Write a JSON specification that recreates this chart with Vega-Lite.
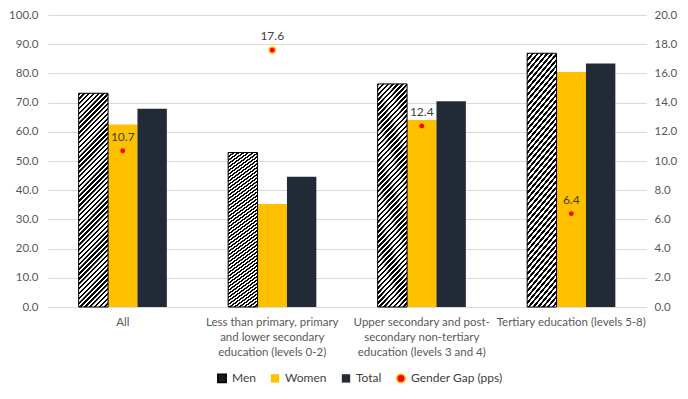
{
  "$schema": "https://vega.github.io/schema/vega-lite/v6.json",
  "width": 598,
  "height": 292,
  "autosize": {"type": "none"},
  "padding": {"left": 48, "top": 15, "right": 42, "bottom": 92},
  "background": "white",
  "config": {
    "view": {"stroke": null},
    "font": "Lato",
    "axis": {"labelFont": "Lato", "labelColor": "#595959", "labelFontSize": 11.5, "ticks": false, "title": null}
  },
  "datasets": {
    "bars": [
      {"cat": "All", "series": "Men", "value": 73.2},
      {"cat": "All", "series": "Women", "value": 62.5},
      {"cat": "All", "series": "Total", "value": 67.9},
      {"cat": "Less than primary, primary|and lower secondary|education (levels 0-2)", "series": "Men", "value": 52.9},
      {"cat": "Less than primary, primary|and lower secondary|education (levels 0-2)", "series": "Women", "value": 35.3},
      {"cat": "Less than primary, primary|and lower secondary|education (levels 0-2)", "series": "Total", "value": 44.6},
      {"cat": "Upper secondary and post-|secondary non-tertiary|education (levels 3 and 4)", "series": "Men", "value": 76.4},
      {"cat": "Upper secondary and post-|secondary non-tertiary|education (levels 3 and 4)", "series": "Women", "value": 64.0},
      {"cat": "Upper secondary and post-|secondary non-tertiary|education (levels 3 and 4)", "series": "Total", "value": 70.5},
      {"cat": "Tertiary education (levels 5-8)", "series": "Men", "value": 86.9},
      {"cat": "Tertiary education (levels 5-8)", "series": "Women", "value": 80.5},
      {"cat": "Tertiary education (levels 5-8)", "series": "Total", "value": 83.4}
    ],
    "gap": [
      {"cat": "All", "series": "Gender Gap (pps)", "gap": 10.7},
      {"cat": "Less than primary, primary|and lower secondary|education (levels 0-2)", "series": "Gender Gap (pps)", "gap": 17.6},
      {"cat": "Upper secondary and post-|secondary non-tertiary|education (levels 3 and 4)", "series": "Gender Gap (pps)", "gap": 12.4},
      {"cat": "Tertiary education (levels 5-8)", "series": "Gender Gap (pps)", "gap": 6.4}
    ]
  },
  "layer": [
    {
      "data": {"name": "bars"},
      "transform": [{"filter": "datum.series !== 'Men'"}],
      "mark": {"type": "bar"},
      "encoding": {
        "x": {
          "field": "cat", "type": "nominal", "sort": null,
          "scale": {"domain": ["All", "Less than primary, primary|and lower secondary|education (levels 0-2)", "Upper secondary and post-|secondary non-tertiary|education (levels 3 and 4)", "Tertiary education (levels 5-8)"], "paddingInner": 0.41, "paddingOuter": 0.205},
          "axis": {"labelAngle": 0, "labelExpr": "split(datum.label, '|')", "labelLineHeight": 15, "labelPadding": 9, "labelBaseline": "top", "domain": true, "domainColor": "#D9D9D9", "grid": false, "labelLimit": 200}
        },
        "xOffset": {"field": "series", "type": "nominal", "sort": ["Men", "Women", "Total"], "scale": {"domain": ["Men", "Women", "Total"], "paddingInner": 0, "paddingOuter": 0}},
        "y": {
          "field": "value", "type": "quantitative",
          "scale": {"domain": [0, 100], "nice": false},
          "axis": {"values": [0, 10, 20, 30, 40, 50, 60, 70, 80, 90, 100], "format": ".1f", "grid": true, "gridColor": "#D9D9D9", "domain": false, "labelPadding": 10}
        },
        "color": {
          "field": "series", "type": "nominal",
          "scale": {
            "domain": ["Men", "Women", "Total", "Gender Gap (pps)"],
            "range": ["#1a1a1a", "#FFC000", "#222A35", "#FF0000"]
          },
          "legend": {
            "orient": "none", "legendX": 168, "legendY": 357, "direction": "horizontal", "title": null,
            "symbolSize": 70, "symbolType": "square", "labelFont": "Lato", "labelFontSize": 12, "labelColor": "#404040",
            "columnPadding": 11, "labelOffset": 4,
            "encode": {"symbols": {"update": {
              "shape": {"signal": "datum.value === 'Gender Gap (pps)' ? 'circle' : 'square'"},
              "fill": [
                {"test": "datum.value === 'Men'", "value": {"gradient": "linear", "x1": 0, "y1": 0, "x2": 1, "y2": 1, "stops": [
                  {"offset": 0, "color": "#000"}, {"offset": 0.4, "color": "#000"}, {"offset": 0.45, "color": "#fff"},
                  {"offset": 0.6, "color": "#fff"}, {"offset": 0.65, "color": "#000"}, {"offset": 1, "color": "#000"}]}},
                {"scale": "color", "field": "value"}
              ],
              "stroke": {"signal": "datum.value === 'Gender Gap (pps)' ? '#FFC000' : (datum.value === 'Men' ? '#000000' : 'transparent')"},
              "strokeWidth": {"value": 1.5}
            }}}
          }
        }
      }
    },
    {
      "data": {"name": "bars"},
      "transform": [{"filter": "datum.series === 'Men'"}],
      "mark": {
        "type": "bar", "stroke": "#000000", "strokeWidth": 1,
        "color": {"gradient": "linear", "x1": 0, "y1": 0, "x2": 0.155, "y2": 1.117, "stops": [
          {"offset":0,"color":"#000"},{"offset":0.009,"color":"#000"},{"offset":0.01,"color":"#fff"},{"offset":0.019,"color":"#fff"},
          {"offset":0.02,"color":"#000"},{"offset":0.029,"color":"#000"},{"offset":0.03,"color":"#fff"},{"offset":0.039,"color":"#fff"},
          {"offset":0.04,"color":"#000"},{"offset":0.049,"color":"#000"},{"offset":0.05,"color":"#fff"},{"offset":0.059,"color":"#fff"},
          {"offset":0.06,"color":"#000"},{"offset":0.069,"color":"#000"},{"offset":0.07,"color":"#fff"},{"offset":0.079,"color":"#fff"},
          {"offset":0.08,"color":"#000"},{"offset":0.089,"color":"#000"},{"offset":0.09,"color":"#fff"},{"offset":0.099,"color":"#fff"},
          {"offset":0.10,"color":"#000"},{"offset":0.109,"color":"#000"},{"offset":0.11,"color":"#fff"},{"offset":0.119,"color":"#fff"},
          {"offset":0.12,"color":"#000"},{"offset":0.129,"color":"#000"},{"offset":0.13,"color":"#fff"},{"offset":0.139,"color":"#fff"},
          {"offset":0.14,"color":"#000"},{"offset":0.149,"color":"#000"},{"offset":0.15,"color":"#fff"},{"offset":0.159,"color":"#fff"},
          {"offset":0.16,"color":"#000"},{"offset":0.169,"color":"#000"},{"offset":0.17,"color":"#fff"},{"offset":0.179,"color":"#fff"},
          {"offset":0.18,"color":"#000"},{"offset":0.189,"color":"#000"},{"offset":0.19,"color":"#fff"},{"offset":0.199,"color":"#fff"},
          {"offset":0.20,"color":"#000"},{"offset":0.209,"color":"#000"},{"offset":0.21,"color":"#fff"},{"offset":0.219,"color":"#fff"},
          {"offset":0.22,"color":"#000"},{"offset":0.229,"color":"#000"},{"offset":0.23,"color":"#fff"},{"offset":0.239,"color":"#fff"},
          {"offset":0.24,"color":"#000"},{"offset":0.249,"color":"#000"},{"offset":0.25,"color":"#fff"},{"offset":0.259,"color":"#fff"},
          {"offset":0.26,"color":"#000"},{"offset":0.269,"color":"#000"},{"offset":0.27,"color":"#fff"},{"offset":0.279,"color":"#fff"},
          {"offset":0.28,"color":"#000"},{"offset":0.289,"color":"#000"},{"offset":0.29,"color":"#fff"},{"offset":0.299,"color":"#fff"},
          {"offset":0.30,"color":"#000"},{"offset":0.309,"color":"#000"},{"offset":0.31,"color":"#fff"},{"offset":0.319,"color":"#fff"},
          {"offset":0.32,"color":"#000"},{"offset":0.329,"color":"#000"},{"offset":0.33,"color":"#fff"},{"offset":0.339,"color":"#fff"},
          {"offset":0.34,"color":"#000"},{"offset":0.349,"color":"#000"},{"offset":0.35,"color":"#fff"},{"offset":0.359,"color":"#fff"},
          {"offset":0.36,"color":"#000"},{"offset":0.369,"color":"#000"},{"offset":0.37,"color":"#fff"},{"offset":0.379,"color":"#fff"},
          {"offset":0.38,"color":"#000"},{"offset":0.389,"color":"#000"},{"offset":0.39,"color":"#fff"},{"offset":0.399,"color":"#fff"},
          {"offset":0.40,"color":"#000"},{"offset":0.409,"color":"#000"},{"offset":0.41,"color":"#fff"},{"offset":0.419,"color":"#fff"},
          {"offset":0.42,"color":"#000"},{"offset":0.429,"color":"#000"},{"offset":0.43,"color":"#fff"},{"offset":0.439,"color":"#fff"},
          {"offset":0.44,"color":"#000"},{"offset":0.449,"color":"#000"},{"offset":0.45,"color":"#fff"},{"offset":0.459,"color":"#fff"},
          {"offset":0.46,"color":"#000"},{"offset":0.469,"color":"#000"},{"offset":0.47,"color":"#fff"},{"offset":0.479,"color":"#fff"},
          {"offset":0.48,"color":"#000"},{"offset":0.489,"color":"#000"},{"offset":0.49,"color":"#fff"},{"offset":0.499,"color":"#fff"},
          {"offset":0.50,"color":"#000"},{"offset":0.509,"color":"#000"},{"offset":0.51,"color":"#fff"},{"offset":0.519,"color":"#fff"},
          {"offset":0.52,"color":"#000"},{"offset":0.529,"color":"#000"},{"offset":0.53,"color":"#fff"},{"offset":0.539,"color":"#fff"},
          {"offset":0.54,"color":"#000"},{"offset":0.549,"color":"#000"},{"offset":0.55,"color":"#fff"},{"offset":0.559,"color":"#fff"},
          {"offset":0.56,"color":"#000"},{"offset":0.569,"color":"#000"},{"offset":0.57,"color":"#fff"},{"offset":0.579,"color":"#fff"},
          {"offset":0.58,"color":"#000"},{"offset":0.589,"color":"#000"},{"offset":0.59,"color":"#fff"},{"offset":0.599,"color":"#fff"},
          {"offset":0.60,"color":"#000"},{"offset":0.609,"color":"#000"},{"offset":0.61,"color":"#fff"},{"offset":0.619,"color":"#fff"},
          {"offset":0.62,"color":"#000"},{"offset":0.629,"color":"#000"},{"offset":0.63,"color":"#fff"},{"offset":0.639,"color":"#fff"},
          {"offset":0.64,"color":"#000"},{"offset":0.649,"color":"#000"},{"offset":0.65,"color":"#fff"},{"offset":0.659,"color":"#fff"},
          {"offset":0.66,"color":"#000"},{"offset":0.669,"color":"#000"},{"offset":0.67,"color":"#fff"},{"offset":0.679,"color":"#fff"},
          {"offset":0.68,"color":"#000"},{"offset":0.689,"color":"#000"},{"offset":0.69,"color":"#fff"},{"offset":0.699,"color":"#fff"},
          {"offset":0.70,"color":"#000"},{"offset":0.709,"color":"#000"},{"offset":0.71,"color":"#fff"},{"offset":0.719,"color":"#fff"},
          {"offset":0.72,"color":"#000"},{"offset":0.729,"color":"#000"},{"offset":0.73,"color":"#fff"},{"offset":0.739,"color":"#fff"},
          {"offset":0.74,"color":"#000"},{"offset":0.749,"color":"#000"},{"offset":0.75,"color":"#fff"},{"offset":0.759,"color":"#fff"},
          {"offset":0.76,"color":"#000"},{"offset":0.769,"color":"#000"},{"offset":0.77,"color":"#fff"},{"offset":0.779,"color":"#fff"},
          {"offset":0.78,"color":"#000"},{"offset":0.789,"color":"#000"},{"offset":0.79,"color":"#fff"},{"offset":0.799,"color":"#fff"},
          {"offset":0.80,"color":"#000"},{"offset":0.809,"color":"#000"},{"offset":0.81,"color":"#fff"},{"offset":0.819,"color":"#fff"},
          {"offset":0.82,"color":"#000"},{"offset":0.829,"color":"#000"},{"offset":0.83,"color":"#fff"},{"offset":0.839,"color":"#fff"},
          {"offset":0.84,"color":"#000"},{"offset":0.849,"color":"#000"},{"offset":0.85,"color":"#fff"},{"offset":0.859,"color":"#fff"},
          {"offset":0.86,"color":"#000"},{"offset":0.869,"color":"#000"},{"offset":0.87,"color":"#fff"},{"offset":0.879,"color":"#fff"},
          {"offset":0.88,"color":"#000"},{"offset":0.889,"color":"#000"},{"offset":0.89,"color":"#fff"},{"offset":0.899,"color":"#fff"},
          {"offset":0.90,"color":"#000"},{"offset":0.909,"color":"#000"},{"offset":0.91,"color":"#fff"},{"offset":0.919,"color":"#fff"},
          {"offset":0.92,"color":"#000"},{"offset":0.929,"color":"#000"},{"offset":0.93,"color":"#fff"},{"offset":0.939,"color":"#fff"},
          {"offset":0.94,"color":"#000"},{"offset":0.949,"color":"#000"},{"offset":0.95,"color":"#fff"},{"offset":0.959,"color":"#fff"},
          {"offset":0.96,"color":"#000"},{"offset":0.969,"color":"#000"},{"offset":0.97,"color":"#fff"},{"offset":0.979,"color":"#fff"},
          {"offset":0.98,"color":"#000"},{"offset":0.989,"color":"#000"},{"offset":0.99,"color":"#fff"},{"offset":1,"color":"#fff"}
        ]}
      },
      "encoding": {
        "x": {"field": "cat", "type": "nominal", "sort": null},
        "xOffset": {"field": "series", "type": "nominal", "sort": ["Men", "Women", "Total"]},
        "y": {"field": "value", "type": "quantitative", "scale": {"domain": [0, 100], "nice": false}, "axis": null}
      }
    },
    {
      "data": {"name": "gap"},
      "mark": {"type": "point", "filled": true, "opacity": 1, "size": 40, "stroke": "#FFC000", "strokeWidth": 1.5},
      "encoding": {
        "x": {"field": "cat", "type": "nominal", "sort": null},
        "y": {
          "field": "gap", "type": "quantitative",
          "scale": {"domain": [0, 20], "nice": false},
          "axis": {"orient": "right", "values": [0, 2, 4, 6, 8, 10, 12, 14, 16, 18, 20], "format": ".1f", "grid": false, "domain": false, "labelPadding": 8}
        },
        "color": {"field": "series", "type": "nominal"}
      }
    },
    {
      "data": {"name": "gap"},
      "mark": {"type": "text", "dy": -14, "font": "Lato", "fontSize": 12, "color": "#404040"},
      "encoding": {
        "x": {"field": "cat", "type": "nominal", "sort": null},
        "y": {"field": "gap", "type": "quantitative", "scale": {"domain": [0, 20], "nice": false}, "axis": null},
        "text": {"field": "gap", "type": "quantitative", "format": ".1f"}
      }
    }
  ],
  "resolve": {"scale": {"y": "independent"}, "axis": {"y": "independent"}}
}
